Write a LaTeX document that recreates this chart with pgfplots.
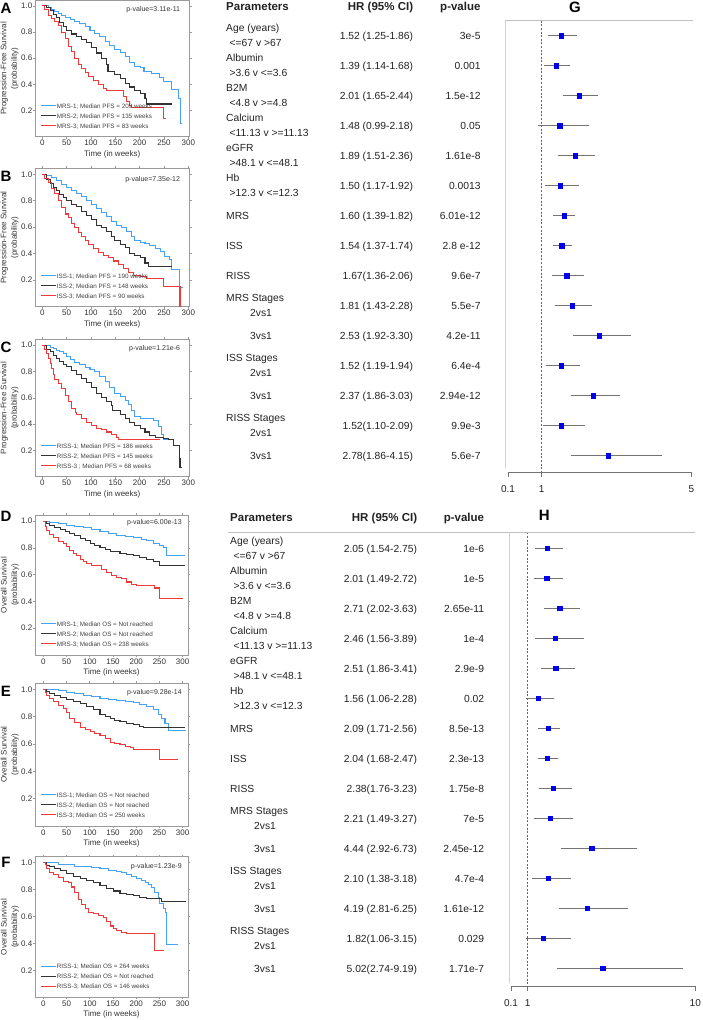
\documentclass[border=0pt]{standalone}
\usepackage{fontspec}
\setmainfont{Liberation Sans}
\usepackage{pgfplots}
\pgfplotsset{compat=1.18}
\usepackage{pgfplotstable}

\definecolor{kmblue}{HTML}{45A2F4}
\definecolor{kmblack}{HTML}{333333}
\definecolor{kmred}{HTML}{F03A3A}
\definecolor{framec}{HTML}{9A9A9A}
\definecolor{txt}{HTML}{222222}

\pgfplotstableread{
row hr lo hi
1 1.52 1.25 1.86
2 1.39 1.14 1.68
3 2.01 1.65 2.44
4 1.48 0.99 2.18
5 1.89 1.51 2.36
6 1.50 1.17 1.92
7 1.60 1.39 1.82
8 1.54 1.37 1.74
9 1.67 1.36 2.06
10 1.81 1.43 2.28
11 2.53 1.92 3.30
12 1.52 1.19 1.94
13 2.37 1.86 3.03
14 1.52 1.10 2.09
15 2.78 1.86 4.15
}\tabG

\pgfplotstableread{
row hr lo hi
1 2.05 1.54 2.75
2 2.01 1.49 2.72
3 2.71 2.02 3.63
4 2.46 1.56 3.89
5 2.51 1.86 3.41
6 1.56 1.06 2.28
7 2.09 1.71 2.56
8 2.04 1.68 2.47
9 2.38 1.76 3.23
10 2.21 1.49 3.27
11 4.44 2.92 6.73
12 2.10 1.38 3.18
13 4.19 2.81 6.25
14 1.82 1.06 3.15
15 5.02 2.74 9.19
}\tabH

\pgfplotsset{
  km/.style={
    scale only axis, width=154.5pt, ymin=0, ymax=1.045,
    axis line style={framec, line width=0.6pt},
    tick style={framec, line width=0.6pt},
    tick align=outside, major tick length=2pt,
    xtick={0,50,100,150,200,250,300}, xticklabels={0,50,100,150,200,250,300},
    ytick={0.2,0.4,0.6,0.8,1.0}, yticklabels={0.2,0.4,0.6,0.8,1.0},
    tick label style={font=\fontsize{8}{9}\selectfont, text=black!80},
    yticklabel style={inner xsep=0.6pt},
    xticklabel style={inner ysep=1.5pt},
    xlabel={Time (in weeks)},
    xlabel style={at={(axis description cs:0.5,0)}, anchor=center, yshift=-17.6pt, font=\fontsize{8}{9}\selectfont, text=black!80},
    ylabel style={at={(axis description cs:-0.165,0.5)}, anchor=center, align=center, font=\fontsize{8}{10.5}\selectfont, text=black!80},
    legend style={draw=none, fill=none, at={(axis description cs:0.037,0.03)}, anchor=south west,
      font=\fontsize{6.3}{7}\selectfont, text=black!75, inner sep=0pt, row sep=0pt,
      nodes={inner sep=0pt, text height=6pt, text depth=4pt}},
    legend cell align=left,
    legend image code/.code={\draw[##1, line width=1pt] (0pt,1.7pt) -- (15pt,1.7pt);},
    every axis plot/.append style={const plot, line width=1.05pt},
  },
  fp/.style={
    scale only axis, axis y line=none, axis x line*=bottom,
    tick align=outside, major tick length=5pt,
    axis line style={black!55, line width=0.7pt},
    tick style={black!55, line width=0.7pt},
    tick label style={font=\fontsize{10}{12}\selectfont, text=txt},
    xticklabel shift=5pt,
    clip=false,
  },
}

\tikzset{
  pval/.style={anchor=east, font=\fontsize{7}{8}\selectfont, text=black!80, inner sep=0pt},
  tx/.style={font=\fontsize{10.3}{12}\selectfont, text=txt, inner sep=0pt},
  hd/.style={font=\bfseries\fontsize{11.5}{13}\selectfont, text=txt, inner sep=0pt},
  lett/.style={font=\bfseries\fontsize{15}{15}\selectfont, inner sep=0pt},
}

% table helpers (inside scope with x=1pt,y=1pt)
\newcommand\TwoRow[5]{%
  \node[tx, anchor=base west] at (\xA, -#1+7.5-3.7) {#2};
  \node[tx, anchor=base west] at (\xB, -#1-7.5-3.7) {#3};
  \node[tx, anchor=base east] at (\xHR, -#1-3.7) {#4};
  \node[tx, anchor=base east] at (\xP, -#1-3.7) {#5};}
\newcommand\StageRow[5]{%
  \node[tx, anchor=base west] at (\xA, -#1+7.5-3.7) {#2};
  \node[tx, anchor=base west] at (\xS, -#1-7.5-3.7) {#3};
  \node[tx, anchor=base east] at (\xHR, -#1-3.7) {#4};
  \node[tx, anchor=base east] at (\xP, -#1-3.7) {#5};}
\newcommand\OneRow[4]{%
  \node[tx, anchor=base west] at (\xA, -#1-3.7) {#2};
  \node[tx, anchor=base east] at (\xHR, -#1-3.7) {#3};
  \node[tx, anchor=base east] at (\xP, -#1-3.7) {#4};}
\newcommand\SubRow[4]{%
  \node[tx, anchor=base west] at (\xS, -#1-3.7) {#2};
  \node[tx, anchor=base east] at (\xHR, -#1-3.7) {#3};
  \node[tx, anchor=base east] at (\xP, -#1-3.7) {#4};}

\begin{document}
\begin{tikzpicture}
\useasboundingbox (0pt,0pt) rectangle (703pt,-1020pt);

% ---------------- A ----------------
\begin{axis}[km, at={(35pt,-136.7pt)}, anchor=south west, height=136.7pt, xmin=-15, xmax=302.5,
  ylabel={Progression-Free Survival\\(probability)}]
\addplot[kmblue] coordinates {(0,1) (12,0.985) (19,0.97) (26,0.957) (33,0.94) (40,0.925) (47,0.91) (57,0.895) (67,0.88) (77,0.865) (88,0.845) (98,0.815) (108,0.79) (118,0.765) (129,0.73) (139,0.70) (149,0.67) (160,0.645) (170,0.61) (180,0.565) (190,0.54) (201,0.53) (209,0.50) (225,0.48) (240,0.455) (249,0.42) (266,0.36) (279,0.29) (284,0.10) (288,0.10)};
\addplot[kmblack] coordinates {(0,1) (9,0.985) (16,0.965) (23,0.935) (29,0.91) (36,0.875) (43,0.845) (50,0.815) (60,0.785) (70,0.765) (81,0.745) (91,0.72) (101,0.685) (112,0.64) (122,0.60) (132,0.555) (135,0.50) (149,0.475) (160,0.445) (170,0.41) (180,0.38) (190,0.355) (201,0.33) (211,0.29) (214,0.25) (266,0.25)};
\addplot[kmred] coordinates {(0,1) (5,0.97) (12,0.93) (19,0.905) (26,0.88) (33,0.85) (40,0.80) (47,0.75) (53,0.69) (60,0.65) (67,0.60) (74,0.55) (81,0.52) (88,0.49) (95,0.46) (105,0.43) (115,0.40) (125,0.37) (132,0.35) (166,0.31) (173,0.27) (180,0.24) (184,0.22) (249,0.14) (254,0.14)};
\legend{MRS-1; Median PFS = 209 weeks, MRS-2; Median PFS = 135 weeks, MRS-3; Median PFS = 83 weeks}
\node[pval, yshift=-10pt] at (rel axis cs:0.94,1) {p-value=3.11e-11};
\end{axis}

% ---------------- B ----------------
\begin{axis}[km, at={(35pt,-306.7pt)}, anchor=south west, height=138.4pt, xmin=-15, xmax=302.5,
  ylabel={Progression-Free Survival\\(probability)}]
\addplot[kmblue] coordinates {(0,1) (9,0.99) (19,0.975) (29,0.95) (40,0.925) (50,0.90) (60,0.875) (70,0.855) (81,0.83) (91,0.80) (101,0.77) (112,0.74) (122,0.71) (132,0.68) (142,0.64) (153,0.61) (163,0.595) (173,0.57) (184,0.53) (190,0.50) (201,0.485) (211,0.475) (221,0.46) (232,0.44) (242,0.42) (252,0.38) (262,0.36) (266,0.28) (281,0.145) (290,0.145)};
\addplot[kmblack] coordinates {(0,1) (9,0.96) (16,0.93) (23,0.90) (29,0.875) (36,0.85) (43,0.825) (50,0.80) (60,0.775) (70,0.755) (81,0.72) (91,0.69) (101,0.655) (112,0.615) (122,0.595) (132,0.565) (142,0.53) (148,0.50) (160,0.47) (170,0.445) (180,0.405) (190,0.39) (201,0.37) (211,0.33) (218,0.30) (266,0.30)};
\addplot[kmred] coordinates {(0,1) (5,0.97) (12,0.94) (19,0.895) (26,0.855) (33,0.80) (40,0.75) (47,0.70) (53,0.67) (60,0.63) (67,0.60) (74,0.56) (81,0.53) (88,0.50) (95,0.47) (105,0.44) (115,0.41) (125,0.385) (136,0.37) (146,0.345) (156,0.32) (166,0.29) (177,0.26) (187,0.235) (201,0.225) (214,0.21) (249,0.15) (283,0.0)};
\legend{ISS-1; Median PFS = 190 weeks, ISS-2; Median PFS = 148 weeks, ISS-3; Median PFS = 90 weeks}
\node[pval, yshift=-11.7pt] at (rel axis cs:0.94,1) {p-value=7.35e-12};
\end{axis}

% ---------------- C ----------------
\begin{axis}[km, at={(35pt,-476.7pt)}, anchor=south west, height=137.4pt, xmin=-15, xmax=302.5,
  ylabel={Progression-Free Survival\\(probability)}]
\addplot[kmblue] coordinates {(0,1) (16,0.985) (23,0.975) (29,0.96) (36,0.95) (43,0.94) (50,0.915) (57,0.89) (67,0.87) (77,0.85) (88,0.83) (98,0.815) (108,0.80) (118,0.765) (129,0.725) (139,0.68) (149,0.63) (160,0.61) (170,0.58) (177,0.55) (184,0.50) (190,0.46) (201,0.44) (228,0.43) (238,0.38) (245,0.32) (249,0.28) (262,0.28)};
\addplot[kmblack] coordinates {(0,1) (9,0.97) (16,0.95) (23,0.925) (29,0.90) (36,0.875) (43,0.855) (50,0.835) (60,0.81) (70,0.78) (81,0.75) (91,0.715) (101,0.675) (112,0.635) (122,0.605) (132,0.575) (142,0.54) (145,0.50) (160,0.475) (170,0.445) (180,0.415) (190,0.39) (201,0.37) (211,0.34) (221,0.315) (232,0.30) (249,0.29) (259,0.28) (269,0.24) (281,0.14) (283,0.07) (288,0.07)};
\addplot[kmred] coordinates {(0,1) (5,0.97) (9,0.94) (12,0.90) (16,0.86) (19,0.82) (23,0.78) (26,0.74) (33,0.71) (40,0.67) (47,0.62) (53,0.57) (60,0.52) (68,0.49) (70,0.475) (81,0.44) (91,0.415) (101,0.39) (112,0.37) (122,0.36) (132,0.34) (142,0.32) (153,0.30) (156,0.28) (242,0.28)};
\legend{RISS-1; Median PFS = 186 weeks, RISS-2; Median PFS = 145 weeks, RISS-3 ; Median PFS = 68 weeks}
\node[pval, yshift=-9pt] at (rel axis cs:0.94,1) {p-value=1.21e-6};
\end{axis}

% ---------------- D ----------------
\begin{axis}[km, at={(35pt,-655pt)}, anchor=south west, height=140pt, width=153pt, xmin=-18, xmax=311.5,
  ylabel={Overall Survival\\(probability)}]
\addplot[kmblue] coordinates {(0,1) (14,0.99) (32,0.98) (50,0.97) (68,0.96) (86,0.95) (104,0.935) (122,0.92) (140,0.91) (158,0.895) (176,0.885) (194,0.875) (212,0.865) (223,0.855) (237,0.835) (251,0.82) (258,0.80) (266,0.745) (305,0.745)};
\addplot[kmblack] coordinates {(0,1) (7,0.985) (14,0.97) (25,0.95) (36,0.935) (47,0.92) (57,0.905) (68,0.89) (79,0.87) (90,0.855) (101,0.835) (111,0.815) (122,0.80) (133,0.785) (144,0.775) (154,0.77) (165,0.76) (179,0.75) (194,0.74) (208,0.725) (223,0.715) (237,0.70) (251,0.67) (305,0.67)};
\addplot[kmred] coordinates {(0,1) (4,0.96) (7,0.93) (14,0.90) (22,0.88) (32,0.85) (43,0.83) (50,0.81) (57,0.78) (65,0.755) (72,0.74) (79,0.715) (86,0.70) (93,0.68) (104,0.67) (115,0.665) (126,0.64) (136,0.615) (147,0.59) (158,0.58) (169,0.57) (179,0.545) (190,0.525) (201,0.52) (240,0.50) (251,0.42) (300,0.42)};
\legend{MRS-1; Median OS = Not reached, MRS-2; Median OS = Not reached, MRS-3; Median OS = 238 weeks}
\node[pval, yshift=-7.3pt] at (rel axis cs:0.96,1) {p-value=6.00e-13};
\end{axis}

% ---------------- E ----------------
\begin{axis}[km, at={(35pt,-826pt)}, anchor=south west, height=142.7pt, width=153pt, xmin=-18, xmax=311.5,
  ylabel={Overall Survival\\(probability)}]
\addplot[kmblue] coordinates {(0,1) (32,0.99) (50,0.98) (68,0.97) (86,0.956) (104,0.945) (122,0.935) (140,0.925) (158,0.92) (176,0.91) (194,0.905) (208,0.89) (223,0.875) (237,0.85) (248,0.82) (255,0.79) (262,0.75) (269,0.70) (308,0.70)};
\addplot[kmblack] coordinates {(0,1) (7,0.985) (14,0.97) (25,0.955) (36,0.94) (50,0.925) (65,0.91) (79,0.895) (93,0.875) (108,0.85) (122,0.82) (133,0.80) (144,0.785) (154,0.775) (165,0.765) (179,0.75) (194,0.74) (208,0.73) (215,0.72) (305,0.72)};
\addplot[kmred] coordinates {(0,1) (4,0.975) (7,0.955) (14,0.935) (22,0.91) (32,0.885) (43,0.86) (50,0.83) (57,0.79) (68,0.755) (79,0.72) (90,0.705) (101,0.69) (111,0.675) (122,0.66) (133,0.64) (144,0.61) (154,0.605) (165,0.595) (176,0.585) (187,0.575) (194,0.56) (251,0.49) (290,0.49)};
\legend{ISS-1; Median OS = Not reached, ISS-2; Median OS = Not reached, ISS-3; Median OS = 250 weeks}
\node[pval, yshift=-9pt] at (rel axis cs:0.96,1) {p-value=9.28e-14};
\end{axis}

% ---------------- F ----------------
\begin{axis}[km, at={(35pt,-997.3pt)}, anchor=south west, height=140.6pt, width=153pt, xmin=-18, xmax=311.5,
  ylabel={Overall Survival\\(probability)}]
\addplot[kmblue] coordinates {(0,1) (32,0.99) (50,0.985) (68,0.975) (86,0.97) (104,0.965) (122,0.955) (140,0.945) (158,0.935) (169,0.925) (179,0.91) (190,0.90) (201,0.885) (212,0.87) (219,0.855) (226,0.835) (233,0.815) (240,0.78) (248,0.74) (251,0.70) (258,0.66) (263,0.63) (266,0.39) (290,0.39)};
\addplot[kmblack] coordinates {(0,1) (7,0.98) (14,0.97) (25,0.955) (36,0.94) (50,0.92) (65,0.90) (79,0.885) (93,0.87) (108,0.85) (122,0.83) (136,0.81) (151,0.79) (165,0.775) (179,0.765) (194,0.755) (208,0.745) (223,0.735) (255,0.715) (308,0.715)};
\addplot[kmred] coordinates {(0,1) (4,0.985) (7,0.96) (14,0.93) (22,0.915) (32,0.89) (43,0.86) (54,0.85) (61,0.82) (68,0.78) (75,0.73) (83,0.69) (90,0.66) (97,0.63) (108,0.62) (118,0.605) (129,0.59) (136,0.565) (144,0.53) (151,0.51) (158,0.50) (169,0.48) (179,0.475) (240,0.35) (260,0.35)};
\legend{RISS-1; Median OS = 264 weeks, RISS-2; Median OS = Not reached, RISS-3; Median OS = 146 weeks}
\node[pval, yshift=-10pt] at (rel axis cs:0.96,1) {p-value=1.23e-9};
\end{axis}

% ---------------- G forest ----------------
\begin{axis}[fp, at={(508pt,-472.3pt)}, anchor=south west, width=183.3pt, height=451.6pt,
  xmin=0.1, xmax=5, ymin=-15.553, ymax=-0.5, xtick={0.1,1,5}, xticklabels={0.1,1,5}]
\addplot[black!60, line width=0.6pt, dash pattern=on 2pt off 1.6pt] coordinates {(1,-0.5) (1,-15.553)};
\addplot[only marks, mark=square*, mark size=2.2pt, color=blue!92!black,
  error bars/.cd, x dir=both, x explicit,
  error bar style={black!55, line width=0.7pt}, error mark options={black!55, mark size=2.8pt, line width=0.7pt}]
  table[x=hr, y expr=-\thisrow{row}, x error plus expr=\thisrow{hi}-\thisrow{hr}, x error minus expr=\thisrow{hr}-\thisrow{lo}] {\tabG};
\end{axis}

% ---------------- H forest ----------------
\begin{axis}[fp, at={(511pt,-986pt)}, anchor=south west, width=184.3pt, height=453.7pt,
  xmin=0.1, xmax=10, ymin=-15.59, ymax=-0.467, xtick={0.1,1,10}, xticklabels={0.1,1,10}]
\addplot[black!60, line width=0.6pt, dash pattern=on 2pt off 1.6pt] coordinates {(1,-0.467) (1,-15.59)};
\addplot[only marks, mark=square*, mark size=2.2pt, color=blue!92!black,
  error bars/.cd, x dir=both, x explicit,
  error bar style={black!55, line width=0.7pt}, error mark options={black!55, mark size=2.8pt, line width=0.7pt}]
  table[x=hr, y expr=-\thisrow{row}, x error plus expr=\thisrow{hi}-\thisrow{hr}, x error minus expr=\thisrow{hr}-\thisrow{lo}] {\tabH};
\end{axis}

\begin{scope}[x=1pt,y=1pt]
% panel letters
\node[lett] at (6,-8.3) {A};
\node[lett] at (6,-176) {B};
\node[lett] at (6,-347.5) {C};
\node[lett] at (6,-516.5) {D};
\node[lett] at (6,-691.7) {E};
\node[lett] at (6,-862.5) {F};

% ----- G table -----
\draw[black!25, line width=0.8pt] (505,-20.7) -- (693,-20.7);
\draw[black!18, line width=0.8pt] (505.7,-20.7) -- (505.7,-468);
\node[hd, anchor=base west] at (226,-6-4.1) {Parameters};
\node[hd, anchor=base east] at (413.3,-6-4.1) {HR (95\% CI)};
\node[hd, anchor=base east] at (480.7,-6-4.1) {p-value};
\node[lett, anchor=base] at (575,-7-5.4) {G};
\def\xA{226}\def\xB{229.5}\def\xS{250}\def\xHR{413.3}\def\xP{480.7}
\TwoRow{35.7}{Age (years)}{<=67 v >67}{1.52 (1.25-1.86)}{3e-5}
\TwoRow{65.7}{Albumin}{>3.6 v <=3.6}{1.39 (1.14-1.68)}{0.001}
\TwoRow{95.7}{B2M}{<4.8 v >=4.8}{2.01 (1.65-2.44)}{1.5e-12}
\TwoRow{125.7}{Calcium}{<11.13 v >=11.13}{1.48 (0.99-2.18)}{0.05}
\TwoRow{155.7}{eGFR}{>48.1 v <=48.1}{1.89 (1.51-2.36)}{1.61e-8}
\TwoRow{185.7}{Hb}{>12.3 v <=12.3}{1.50 (1.17-1.92)}{0.0013}
\OneRow{215.7}{MRS}{1.60 (1.39-1.82)}{6.01e-12}
\OneRow{245.7}{ISS}{1.54 (1.37-1.74)}{2.8 e-12}
\OneRow{275.7}{RISS}{1.67(1.36-2.06)}{9.6e-7}
\StageRow{305.7}{MRS Stages}{2vs1}{1.81 (1.43-2.28)}{5.5e-7}
\SubRow{335.7}{3vs1}{2.53 (1.92-3.30)}{4.2e-11}
\StageRow{365.7}{ISS Stages}{2vs1}{1.52 (1.19-1.94)}{6.4e-4}
\SubRow{395.7}{3vs1}{2.37 (1.86-3.03)}{2.94e-12}
\StageRow{425.7}{RISS Stages}{2vs1}{1.52(1.10-2.09)}{9.9e-3}
\SubRow{455.7}{3vs1}{2.78(1.86-4.15)}{5.6e-7}

% ----- H table -----
\draw[black!25, line width=0.8pt] (228,-532.3) -- (695,-532.3);
\draw[black!18, line width=0.8pt] (509.3,-532.3) -- (509.3,-983);
\node[hd, anchor=base west] at (230,-517.3-4.1) {Parameters};
\node[hd, anchor=base east] at (417.3,-517.3-4.1) {HR (95\% CI)};
\node[hd, anchor=base east] at (484.3,-517.3-4.1) {p-value};
\node[lett, anchor=base] at (544.3,-515-5.4) {H};
\def\xA{230}\def\xB{233.3}\def\xS{254}\def\xHR{417.3}\def\xP{484.3}
\TwoRow{548.3}{Age (years)}{<=67 v >67}{2.05 (1.54-2.75)}{1e-6}
\TwoRow{578.3}{Albumin}{>3.6 v <=3.6}{2.01 (1.49-2.72)}{1e-5}
\TwoRow{608.3}{B2M}{<4.8 v >=4.8}{2.71 (2.02-3.63)}{2.65e-11}
\TwoRow{638.3}{Calcium}{<11.13 v >=11.13}{2.46 (1.56-3.89)}{1e-4}
\TwoRow{668.3}{eGFR}{>48.1 v <=48.1}{2.51 (1.86-3.41)}{2.9e-9}
\TwoRow{698.3}{Hb}{>12.3 v <=12.3}{1.56 (1.06-2.28)}{0.02}
\OneRow{728.3}{MRS}{2.09 (1.71-2.56)}{8.5e-13}
\OneRow{758.3}{ISS}{2.04 (1.68-2.47)}{2.3e-13}
\OneRow{788.3}{RISS}{2.38(1.76-3.23)}{1.75e-8}
\StageRow{818.3}{MRS Stages}{2vs1}{2.21 (1.49-3.27)}{7e-5}
\SubRow{848.3}{3vs1}{4.44 (2.92-6.73)}{2.45e-12}
\StageRow{878.3}{ISS Stages}{2vs1}{2.10 (1.38-3.18)}{4.7e-4}
\SubRow{908.3}{3vs1}{4.19 (2.81-6.25)}{1.61e-12}
\StageRow{938.3}{RISS Stages}{2vs1}{1.82(1.06-3.15)}{0.029}
\SubRow{968.3}{3vs1}{5.02(2.74-9.19)}{1.71e-7}
\end{scope}
\end{tikzpicture}
\end{document}
